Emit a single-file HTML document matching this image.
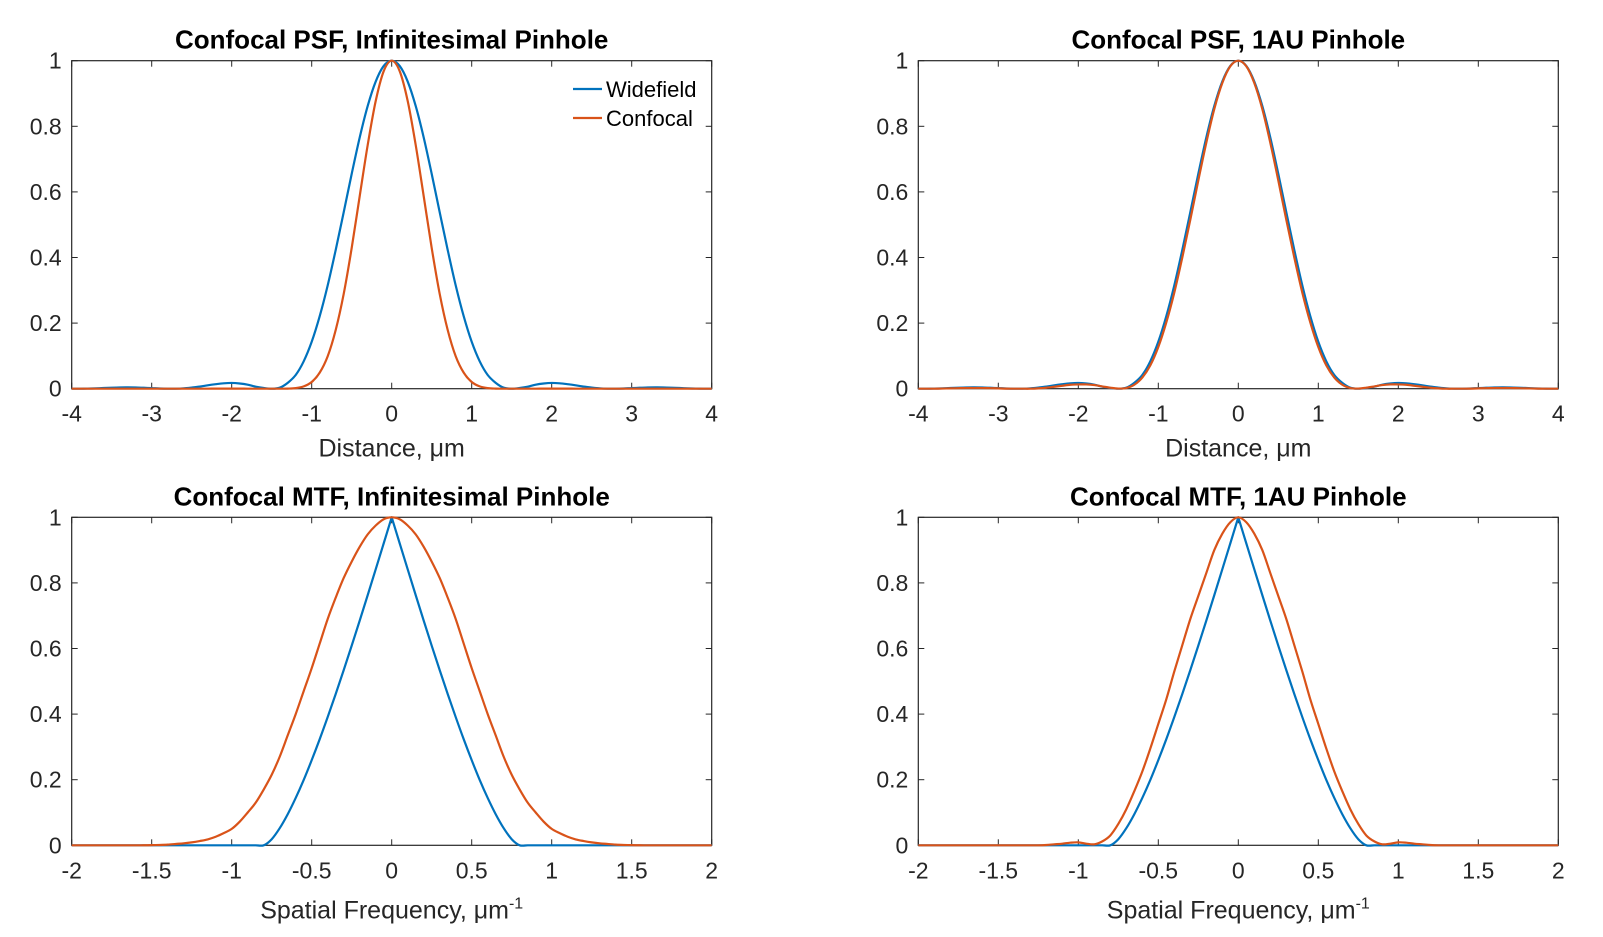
<!DOCTYPE html>
<html><head><meta charset="utf-8"><style>
body{margin:0;background:#fff;}
svg{display:block;font-family:"Liberation Sans",sans-serif;}
</style></head><body>
<svg id="fig" width="1603" height="937" viewBox="0 0 1603 937"></svg>
<script>
// PSF data: distance 0..4 um step 0.1 (symmetric about 0)
const psfX = [0,0.1,0.2,0.3,0.4,0.5,0.6,0.7,0.8,0.9,1.0,1.1,1.2,1.3,1.4,1.5,1.6,1.7,1.8,1.9,2.0,2.1,2.2,2.3,2.4,2.5,2.6,2.7,2.8,2.9,3.0,3.1,3.2,3.3,3.4,3.5,3.6,3.7,3.8,3.9,4.0];
const psfWide = [1,0.984,0.9365,0.862,0.766,0.655,0.538,0.423,0.315,0.221,0.143,0.0835,0.0418,0.0179,0.0031,0,0.0022,0.0061,0.0123,0.0158,0.0175,0.0165,0.0138,0.0104,0.0064,0.0035,0.0011,0.0001,0.0001,0.0007,0.0018,0.0028,0.0037,0.0041,0.0039,0.0031,0.0021,0.0011,0.0004,0,0];
const psfConfInf = [1,0.968,0.877,0.743,0.587,0.429,0.289,0.179,0.099,0.049,0.0204,0.007,0.0017,0.0003,0,0,0,0,0.0001,0.0002,0.0003,0.0003,0.0002,0.0001,0,0,0,0,0,0,0,0,0,0,0,0,0,0,0,0,0];
const psfConf1AU = [1,0.983,0.932,0.853,0.75,0.635,0.515,0.4,0.293,0.202,0.127,0.071,0.034,0.012,0.002,0.0005,0.003,0.007,0.011,0.013,0.013,0.012,0.009,0.006,0.003,0.001,0,0,0,0.0003,0.001,0.0015,0.002,0.002,0.002,0.0015,0.001,0.0005,0,0,0];
// MTF data: frequency 0..2 um^-1 step 0.05 (symmetric about 0)
const mtfX = [0,0.05,0.1,0.15,0.2,0.25,0.3,0.35,0.4,0.45,0.5,0.55,0.6,0.65,0.7,0.75,0.8,0.85,0.9,0.95,1.0,1.05,1.1,1.15,1.2,1.25,1.3,1.35,1.4,1.45,1.5,1.55,1.6,1.65,1.7,1.75,1.8,1.85,1.9,1.95,2.0];
const mtfWide = [1,0.9205,0.8413,0.7627,0.685,0.6087,0.534,0.4613,0.391,0.3235,0.2596,0.1993,0.1443,0.0947,0.0521,0.0186,0,0,0,0,0,0,0,0,0,0,0,0,0,0,0,0,0,0,0,0,0,0,0,0,0];
const mtfConfInf = [1,0.994,0.975,0.948,0.91,0.865,0.815,0.755,0.69,0.615,0.54,0.47,0.4,0.335,0.27,0.215,0.17,0.13,0.1,0.072,0.05,0.037,0.026,0.018,0.013,0.009,0.006,0.004,0.002,0.001,0.0005,0.0001,0,0,0,0,0,0,0,0,0];
const mtfConf1AU = [1,0.985,0.95,0.9,0.83,0.76,0.69,0.61,0.53,0.445,0.37,0.295,0.225,0.165,0.11,0.065,0.03,0.012,0.003,0.005,0.009,0.008,0.005,0.003,0.001,0,0,0,0,0,0,0,0,0,0,0,0,0,0,0,0];
const psfTicks = ["-4","-3","-2","-1","0","1","2","3","4"];
const mtfTicks = ["-2","-1.5","-1","-0.5","0","0.5","1","1.5","2"];
const yTicks = ["0","0.2","0.4","0.6","0.8","1"];

const NS="http://www.w3.org/2000/svg";
const svg=document.getElementById('fig');
const BLUE="#0072BD", ORANGE="#D95319", TXT="#262626";
function mk(tag,attrs,parent){const e=document.createElementNS(NS,tag);for(const k in attrs)e.setAttribute(k,attrs[k]);(parent||svg).appendChild(e);return e;}

function smoothPath(pts){
  let d='M'+pts[0][0].toFixed(2)+','+pts[0][1].toFixed(2);
  for(let i=0;i<pts.length-1;i++){
    const p0=pts[i-1]||pts[i],p1=pts[i],p2=pts[i+1],p3=pts[i+2]||p2;
    const c1x=p1[0]+(p2[0]-p0[0])/6,c1y=p1[1]+(p2[1]-p0[1])/6;
    const c2x=p2[0]-(p3[0]-p1[0])/6,c2y=p2[1]-(p3[1]-p1[1])/6;
    d+=' C'+c1x.toFixed(2)+','+c1y.toFixed(2)+' '+c2x.toFixed(2)+','+c2y.toFixed(2)+' '+p2[0].toFixed(2)+','+p2[1].toFixed(2);
  }
  return d;
}

function panel(name,L,T,xmin,xmax,xTicks,title,xlabel,isMTF,xs,series){
  const W=640,H=328,R=L+W,B=T+H;
  const g=mk('g',{});
  
  
  const sx=v=>L+(v-xmin)/(xmax-xmin)*W;
  const sy=v=>B-v*H;
  const frame=mk('rect',{x:L,y:T,width:W,height:H,fill:'#fff',stroke:TXT,'stroke-width':1.2},g);
  
  
  xTicks.forEach(t=>{const v=parseFloat(t),x=sx(v);
    mk('line',{x1:x,y1:B,x2:x,y2:B-6,stroke:TXT,'stroke-width':1},g);
    mk('line',{x1:x,y1:T,x2:x,y2:T+6,stroke:TXT,'stroke-width':1},g);
    const tx=mk('text',{x:x,y:B+33,'text-anchor':'middle','font-size':23,fill:TXT},g);tx.textContent=t;
    
    
  });
  yTicks.forEach(t=>{const v=parseFloat(t),y=sy(v);
    mk('line',{x1:L,y1:y,x2:L+6,y2:y,stroke:TXT,'stroke-width':1},g);
    mk('line',{x1:R,y1:y,x2:R-6,y2:y,stroke:TXT,'stroke-width':1},g);
    const tx=mk('text',{x:L-10,y:y+8,'text-anchor':'end','font-size':23,fill:TXT},g);tx.textContent=t;
    
    
  });
  series.forEach(([vals,col,nm])=>{
    const left=[],right=[];
    for(let i=xs.length-1;i>=0;i--)left.push([sx(-xs[i]),sy(vals[i])]);
    for(let i=0;i<xs.length;i++)right.push([sx(xs[i]),sy(vals[i])]);
    const d=isMTF&&nm.indexOf('widefield')===0 ? smoothPath(left)+' '+smoothPath(right).replace('M','L') : smoothPath(left.concat(right.slice(1)));
    const p=mk('path',{d:d,fill:'none',stroke:col,'stroke-width':2.2,'stroke-linejoin':'round'},g);
    
    
  });
  const tt=mk('text',{x:L+W/2,y:T-12,'text-anchor':'middle','font-size':26,'font-weight':'bold',fill:'#000'},g);tt.textContent=title;
  
  
  const xl=mk('text',{x:L+W/2,y:isMTF?B+73:B+68,'text-anchor':'middle','font-size':25,fill:TXT},g);
  
  
  if(isMTF){xl.textContent='Spatial Frequency, μm';const s=mk('tspan',{dy:-10,'font-size':16},xl);s.textContent='-1';}
  else xl.textContent=xlabel;
  return g;
}
panel('psf-infinitesimal-panel',71.7,60.7,-4,4,psfTicks,'Confocal PSF, Infinitesimal Pinhole','Distance, μm',false,psfX,[[psfWide,BLUE,'widefield-psf-line'],[psfConfInf,ORANGE,'confocal-psf-line']]);
panel('psf-1au-panel',918.3,60.7,-4,4,psfTicks,'Confocal PSF, 1AU Pinhole','Distance, μm',false,psfX,[[psfWide,BLUE,'widefield-psf-line'],[psfConf1AU,ORANGE,'confocal-psf-line']]);
panel('mtf-infinitesimal-panel',71.7,517.3,-2,2,mtfTicks,'Confocal MTF, Infinitesimal Pinhole','',true,mtfX,[[mtfWide,BLUE,'widefield-mtf-line'],[mtfConfInf,ORANGE,'confocal-mtf-line']]);
panel('mtf-1au-panel',918.3,517.3,-2,2,mtfTicks,'Confocal MTF, 1AU Pinhole','',true,mtfX,[[mtfWide,BLUE,'widefield-mtf-line'],[mtfConf1AU,ORANGE,'confocal-mtf-line']]);

// legend
const lg=mk('g',{});


[['Widefield',BLUE,89],['Confocal',ORANGE,118]].forEach(([t,c,y])=>{
  const e=mk('g',{},lg);
  
  
  mk('line',{x1:573,y1:y,x2:602,y2:y,stroke:c,'stroke-width':2.2},e);
  const tx=mk('text',{x:606,y:y+8,'font-size':22,fill:'#000'},e);tx.textContent=t;
});
</script>
</body></html>
